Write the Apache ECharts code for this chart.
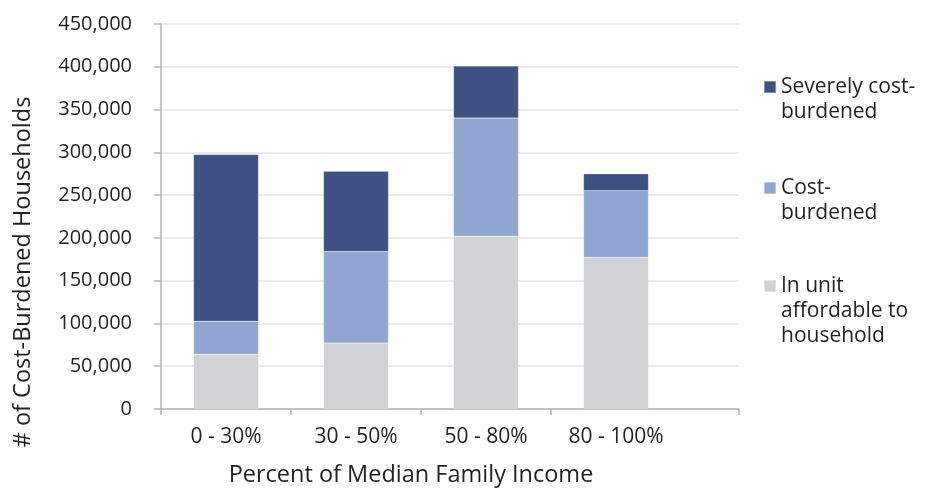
<!DOCTYPE html>
<html><head><meta charset="utf-8">
<script src="https://cdn.jsdelivr.net/npm/echarts@6/dist/echarts.min.js"></script>
<style>html,body{margin:0;padding:0;background:#fff}#c{width:933px;height:489px}</style>
</head><body><div id="c"></div>
<script>
const categories = ['0 - 30%', '30 - 50%', '50 - 80%', '80 - 100%'];
const seriesNames = ['In unit affordable to household', 'Cost-burdened', 'Severely cost-burdened'];
const affordable = [64000, 77000, 202000, 177000];
const costBurdened = [38500, 107000, 138000, 78000];
const severe = [195000, 94000, 61000, 20000];
const legendLabels = ['Severely cost-\nburdened', 'Cost-\nburdened', 'In unit\naffordable to\nhousehold'];
const yAxisTitle = '# of Cost-Burdened Households';
const xAxisTitle = 'Percent of Median Family Income';

const FONT = '"Open Sans", "Noto Sans", sans-serif';
const TXT = '#231f20';
const AXIS = '#b4b4b8';
const colors = ['#d1d2d4', '#90a5cf', '#3d5282'];
const BAND = 130;
const X_MAX = 578 / BAND;

const chart = echarts.init(document.getElementById('c'), null, {renderer: 'canvas'});

const dataSets = [affordable, costBurdened, severe];
const series = dataSets.map((d, k) => ({
  name: seriesNames[k],
  type: 'bar',
  stack: 'total',
  barWidth: '50%',
  xAxisIndex: 1,
  yAxisIndex: 1,
  data: d,
  itemStyle: {color: colors[k], borderColor: 'rgba(255,255,255,0.35)', borderWidth: 0.5},
  emphasis: {disabled: true}
}));

function mkLegend(name, label, top, pad) {
  return {
    data: [name], left: 763, top: top, padding: 0, orient: 'vertical',
    itemWidth: 12, itemHeight: 12, icon: 'rect', selectedMode: false,
    formatter: () => pad + label,
    textStyle: {fontSize: 21, lineHeight: 25, color: TXT, fontFamily: FONT}
  };
}

chart.setOption({
  animation: false,
  color: colors,
  grid: [
    {left: 161, width: 578, top: 24, bottom: 80},
    {left: 161, width: BAND * categories.length, top: 24, bottom: 80}
  ],
  xAxis: [
    {
      type: 'value', gridIndex: 0, min: 0, max: X_MAX,
      splitLine: {show: false},
      axisLine: {show: true, lineStyle: {color: AXIS, width: 1.5}},
      axisTick: {show: true, length: 6, lineStyle: {color: AXIS, width: 1.5},
        customValues: [0, 1, 2, 3, X_MAX]},
      axisLabel: {show: false}
    },
    {
      type: 'category', gridIndex: 1, data: categories,
      axisLine: {show: false}, axisTick: {show: false}, splitLine: {show: false},
      axisLabel: {fontSize: 21, color: TXT, fontFamily: FONT, margin: 18, interval: 0}
    }
  ],
  yAxis: [
    {
      type: 'value', gridIndex: 0, min: 0, max: 450000, interval: 50000,
      axisLine: {show: true, lineStyle: {color: AXIS, width: 1.5}},
      axisTick: {show: true, length: 7, lineStyle: {color: AXIS, width: 1.5}},
      splitLine: {show: true, lineStyle: {color: '#e4e4e4', width: 1.5}},
      axisLabel: {
        formatter: v => v.toLocaleString('en-US'),
        fontSize: 20, color: TXT, fontFamily: FONT, margin: 29
      }
    },
    {
      type: 'value', gridIndex: 1, min: 0, max: 450000, interval: 50000,
      show: false, splitLine: {show: false}
    }
  ],
  legend: [
    mkLegend(seriesNames[2], legendLabels[0], 49.5, '\n'),
    mkLegend(seriesNames[1], legendLabels[1], 150.5, '\n'),
    mkLegend(seriesNames[0], legendLabels[2], 223.5, '\n\n')
  ],
  graphic: [
    {type: 'text', x: 23, y: 272, rotation: Math.PI / 2,
      style: {text: yAxisTitle, fontSize: 23.5, fill: TXT, fontFamily: FONT, align: 'center', verticalAlign: 'middle'}},
    {type: 'text', x: 411, y: 475,
      style: {text: xAxisTitle, fontSize: 23.5, fill: TXT, fontFamily: FONT, align: 'center', verticalAlign: 'middle'}}
  ],
  series: series
});
</script></body></html>
